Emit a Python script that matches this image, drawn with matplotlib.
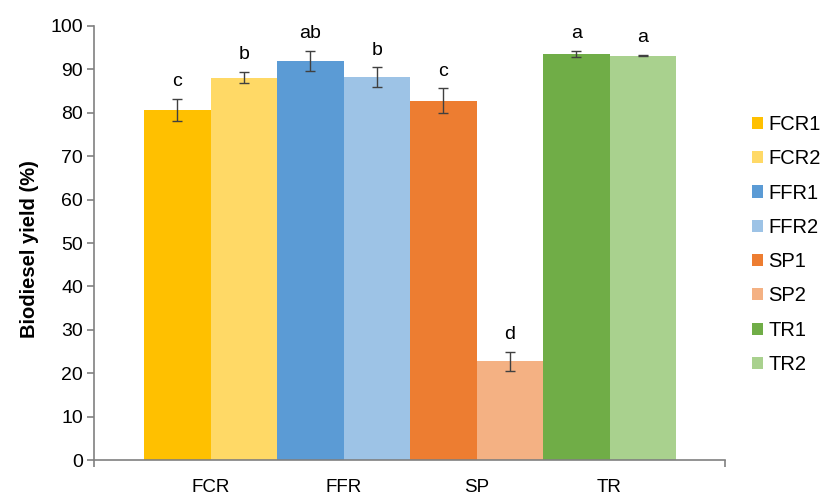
import matplotlib
matplotlib.use("Agg")
import matplotlib.pyplot as plt
import numpy as np

plt.rcParams['font.family'] = ['Liberation Sans', 'DejaVu Sans']

groups = ["FCR", "FFR", "SP", "TR"]
series = ["FCR1", "FCR2", "FFR1", "FFR2", "SP1", "SP2", "TR1", "TR2"]
values = [80.6, 88.1, 92.0, 88.2, 82.8, 22.7, 93.5, 93.2]
errors = [2.6, 1.3, 2.3, 2.3, 2.8, 2.3, 0.7, 0.2]
letters = ["c", "b", "ab", "b", "c", "d", "a", "a"]
colors = ["#FFC000", "#FFD966", "#5B9BD5", "#9DC3E6",
          "#ED7D31", "#F4B183", "#70AD47", "#A9D18E"]

fig = plt.figure(figsize=(8.25, 4.98), dpi=100)
ax = fig.add_axes([94 / 825, 38 / 498, 631 / 825, 434 / 498])

w = 0.5
for i, (s, v, e, l, c) in enumerate(zip(series, values, errors, letters, colors)):
    g = i // 2
    x = g + (-w / 2 if i % 2 == 0 else w / 2)
    ax.bar(x, v, width=w, color=c, label=s, zorder=2)
    ax.errorbar(x, v, yerr=e, fmt='none', ecolor='#404040', elinewidth=1,
                capsize=3.5, capthick=1, zorder=3)
    ax.text(x, v + e + 2.0, l, ha='center', va='bottom', fontsize=14)

xl = (-0.876, 3.868)
ax.set_xlim(*xl)
ax.set_ylim(0, 100)
ax.set_yticks(np.arange(0, 101, 10))
ax.set_xticks(range(len(groups)))
ax.set_xticklabels(groups)
ax.set_xticks(list(xl), minor=True)
ax.tick_params(axis='x', which='major', length=0, labelsize=13.5, pad=14)
ax.tick_params(axis='x', which='minor', length=5, width=1.2, direction='out', color='#808080')
ax.tick_params(axis='y', labelsize=14, length=5, width=1.2, direction='out',
               color='#808080', pad=3)
for sp in ['top', 'right']:
    ax.spines[sp].set_visible(False)
for sp in ['left', 'bottom']:
    ax.spines[sp].set_color('#808080')
    ax.spines[sp].set_linewidth(1.2)
ax.set_ylabel("Biodiesel yield (%)", fontsize=14.5, fontweight='bold')
ax.yaxis.set_label_coords(-0.087, 0.485)

leg = ax.legend(loc='center left', bbox_to_anchor=(1.042, 0.4965), frameon=False,
                fontsize=14.5, handlelength=0.55, handleheight=0.55,
                labelspacing=0.76, handletextpad=0.3, borderaxespad=0, borderpad=0)

fig.savefig("out.png", dpi=100)
